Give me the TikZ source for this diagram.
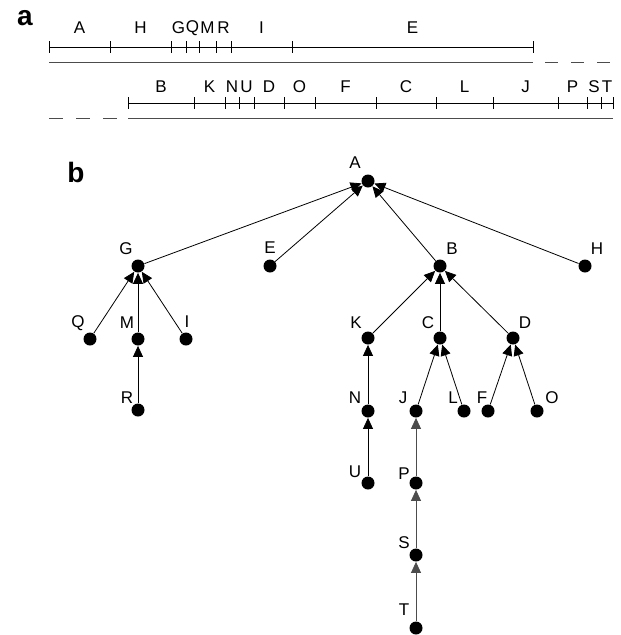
\documentclass[tikz,border=0pt]{standalone}
\usepackage{fontspec}
\setmainfont{Liberation Sans}
\usetikzlibrary{arrows.meta}

\begin{document}
\begin{tikzpicture}[x=1pt, y=-1pt, line width=0.8pt,
	dot/.style={circle, fill, inner sep=0pt, minimum size=13pt},
	lbl/.style={inner sep=0pt, font=\fontsize{17}{20}\selectfont},
	panel/.style={inner sep=0pt, font=\fontsize{28}{32}\selectfont\bfseries},
	up/.style={-{Triangle[length=11pt,width=10pt]}}]
	\useasboundingbox (0,0) rectangle (621,635);

	% a: the two rows of intervals
	\node[panel] (pa) at (25,18) {a};

	\draw (49,47) -- (533,47);
	\foreach \x in {49,110,171,186,199,216,231,292,533}
		\draw (\x,41) -- (\x,53);
	\foreach \a/\b/\t in {49/110/A, 110/171/H, 171/186/G, 186/199/Q, 199/216/M,
			216/231/R, 231/292/I, 292/533/E}
		\node[lbl] (r1-\t) at ({(\a+\b)/2},28) {\t};
	\draw[black!70] (49,62) -- (533,62);
	\draw[black!70, dash pattern=on 13pt off 13pt] (545,62) -- (613,62);

	\draw (128,103) -- (613,103);
	\foreach \x in {128,194,225,239,254,284,315,376,436,493,558,587,601,613}
		\draw (\x,97) -- (\x,109);
	\foreach \a/\b/\t in {128/194/B, 194/225/K, 225/239/N, 239/254/U, 254/284/D,
			284/315/O, 315/376/F, 376/436/C, 436/493/L, 493/558/J, 558/587/P,
			587/601/S, 601/613/T}
		\node[lbl] (r2-\t) at ({(\a+\b)/2},87) {\t};
	\draw[black!70] (128,118) -- (613,118);
	\draw[black!70, dash pattern=on 14pt off 13pt] (49,118) -- (117,118);

	% b: the tree
	\node[panel] (pb) at (76,172) {b};

	\node[dot] (A) at (368,181) {};
	\node[dot] (G) at (138,266) {};
	\node[dot] (E) at (270,266) {};
	\node[dot] (B) at (440,266) {};
	\node[dot] (H) at (585,266) {};
	\node[dot] (Q) at (90,339) {};
	\node[dot] (M) at (138,339) {};
	\node[dot] (I) at (186,339) {};
	\node[dot] (K) at (368,338) {};
	\node[dot] (C) at (440,338) {};
	\node[dot] (D) at (513,338) {};
	\node[dot] (R) at (138,410) {};
	\node[dot] (N) at (368,411) {};
	\node[dot] (J) at (416,411) {};
	\node[dot] (L) at (464,411) {};
	\node[dot] (F) at (488,411) {};
	\node[dot] (O) at (537,411) {};
	\node[dot] (U) at (368,483) {};
	\node[dot] (P) at (416,483) {};
	\node[dot] (S) at (416,555) {};
	\node[dot] (T) at (416,628) {};

	\node[lbl] (lA) at (355,163) {A};
	\node[lbl] (lG) at (126,249) {G};
	\node[lbl] (lE) at (270,248) {E};
	\node[lbl] (lB) at (452,249) {B};
	\node[lbl] (lH) at (597,249) {H};
	\node[lbl] (lQ) at (78,323) {Q};
	\node[lbl] (lM) at (127,323) {M};
	\node[lbl] (lI) at (187,322) {I};
	\node[lbl] (lK) at (356,323) {K};
	\node[lbl] (lC) at (428,323) {C};
	\node[lbl] (lD) at (525,323) {D};
	\node[lbl] (lR) at (127,398) {R};
	\node[lbl] (lN) at (355,398) {N};
	\node[lbl] (lJ) at (403,398) {J};
	\node[lbl] (lL) at (453,398) {L};
	\node[lbl] (lF) at (482,398) {F};
	\node[lbl] (lO) at (552,398) {O};
	\node[lbl] (lU) at (355,472) {U};
	\node[lbl] (lP) at (404,474) {P};
	\node[lbl] (lS) at (404,543) {S};
	\node[lbl] (lT) at (404,610) {T};

	\foreach \c/\p in {G/A, E/A, B/A, H/A, Q/G, M/G, I/G, R/M, K/B, C/B, D/B,
			N/K, J/C, L/C, F/D, O/D, U/N}
		\draw[up] (\c) -- (\p);
	\foreach \c/\p in {P/J, S/P, T/S}
		\draw[up, black!70] (\c) -- (\p);

\end{tikzpicture}
\end{document}
